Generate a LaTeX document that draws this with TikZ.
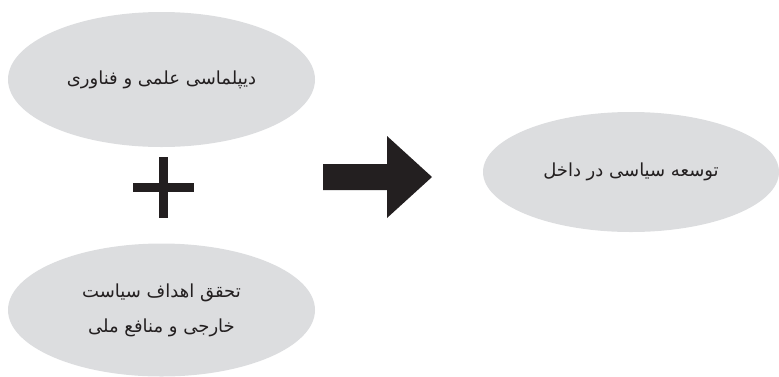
\documentclass[tikz,border=0pt]{standalone}
\usepackage{fontspec}
\usetikzlibrary{shapes.geometric}
\TeXXeTstate=1
\newfontfamily\arabicfont[Script=Arabic]{DejaVu Sans}
\definecolor{ovalgray}{HTML}{DCDDDF}
\definecolor{inkblack}{HTML}{231F20}
\begin{document}
\begin{tikzpicture}[x=1pt,y=-1pt,
  oval/.style={ellipse, fill=ovalgray, draw=none, inner sep=0pt, align=center,
    font=\arabicfont\fontsize{18}{35}\selectfont, text=inkblack}]
\useasboundingbox (0,0) rectangle (779,376);
\node[oval, minimum width=307pt, minimum height=135pt] (top) at (161.5,79.5)
  {\beginR دیپلماسی علمی و فناوری\endR};
\node[oval, minimum width=307pt, minimum height=133pt] (bot) at (161.5,310)
  {\beginR تحقق اهداف سیاست\endR\\ \beginR خارجی و منافع ملی\endR};
\node[oval, minimum width=296pt, minimum height=120pt] (res) at (631,172)
  {\beginR توسعه سیاسی در داخل\endR};
% plus sign
\fill[inkblack] (159,157) rectangle (168.3,218);
\fill[inkblack] (133,183) rectangle (194,192);
% block arrow
\fill[inkblack] (323,164) -- (387,164) -- (387,136) -- (432,177) -- (387,218)
  -- (387,190) -- (323,190) -- cycle;
\end{tikzpicture}
\end{document}
